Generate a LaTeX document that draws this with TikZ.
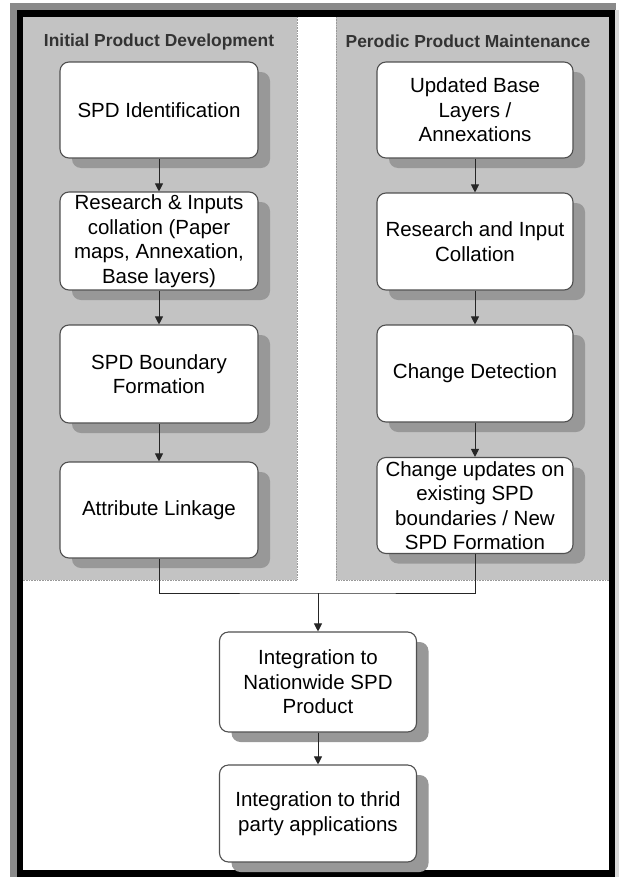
\documentclass[tikz,border=0pt]{standalone}
\usepackage{fontspec}
\setmainfont{Liberation Sans}
\usetikzlibrary{arrows.meta,shadows}
\definecolor{panelgray}{HTML}{C3C3C3}
\definecolor{shadowgray}{HTML}{989898}
\definecolor{boxline}{HTML}{505050}
\definecolor{framegray}{HTML}{8A8A8A}
\tikzset{
  stepbox/.style={draw=boxline, line width=1.1pt, fill=white, rounded corners=9pt,
    align=center, inner sep=2pt,
    font=\fontsize{20.5}{24.5}\selectfont,
    drop shadow={shadow xshift=12pt, shadow yshift=-10pt, fill=shadowgray, opacity=1}},
  lbox/.style={stepbox, minimum width=198pt},
  rbox/.style={stepbox, minimum width=196pt},
  bbox/.style={stepbox, minimum width=197pt},
  conn/.style={draw=black!85, line width=0.9pt},
  arr/.style={conn, -{Triangle[width=8pt,length=8pt]}},
  paneltitle/.style={font=\fontsize{17.4}{20}\selectfont\bfseries, text=black!80}
}
\begin{document}
\begin{tikzpicture}[x=1pt,y=-1pt]
\useasboundingbox (0,0) rectangle (621,878);
\fill[white] (0,0) rectangle (621,878);
% frame
\fill[framegray] (10,3) rectangle (616,877);
\fill[black!15] (615,10) rectangle (619,877);
\fill[black] (17,10) rectangle (615,877);
\fill[white] (23,17) rectangle (609,870);
% panels
\fill[panelgray] (23,17) rectangle (297,580);
\fill[panelgray] (336,17) rectangle (609,580);
\draw[draw=black!40, line width=0.6pt, densely dotted] (297,17) -- (297,580) -- (23,580);
\draw[draw=black!40, line width=0.6pt, densely dotted] (336,17) -- (336,580) -- (609,580);
% titles
\node[paneltitle] (tl) at (159,42) {Initial Product Development};
\node[paneltitle] (tr) at (468,41) {Perodic Product Maintenance};
% left column
\node[lbox, minimum height=96pt] (l1) at (159,110) {SPD Identification};
\node[lbox, minimum height=98pt] (l2) at (159,241) {Research \& Inputs\\collation (Paper\\maps, Annexation,\\Base layers)};
\node[lbox, minimum height=98pt] (l3) at (159,374) {SPD Boundary\\Formation};
\node[lbox, minimum height=96pt] (l4) at (159,510) {Attribute Linkage};
% right column
\node[rbox, minimum height=96pt] (r1) at (475,110) {Updated Base\\Layers /\\Annexations};
\node[rbox, minimum height=97pt] (r2) at (475,241.5) {Research and Input\\Collation};
\node[rbox, minimum height=97pt] (r3) at (475,373.5) {Change Detection};
\node[rbox, minimum height=96pt] (r4) at (475,505.5) {Change updates on\\existing SPD\\boundaries / New\\SPD Formation};
% bottom
\node[bbox, minimum height=100pt] (b1) at (318,682) {Integration to\\Nationwide SPD\\Product};
\node[bbox, minimum height=97pt] (b2) at (318,813.5) {Integration to thrid\\party applications};
% connectors
\draw[arr] (l1) -- (l2);
\draw[arr] (l2) -- (l3);
\draw[arr] (l3) -- (l4);
\draw[arr] (r1) -- (r2);
\draw[arr] (r2) -- (r3);
\draw[arr] (r3) -- (r4);
\coordinate (jn) at (318,593);
\draw[conn] (l4.south) |- (jn) -| (r4.south);
\draw[arr] (jn) -- (b1);
\draw[arr] (b1) -- (b2);
\end{tikzpicture}
\end{document}
